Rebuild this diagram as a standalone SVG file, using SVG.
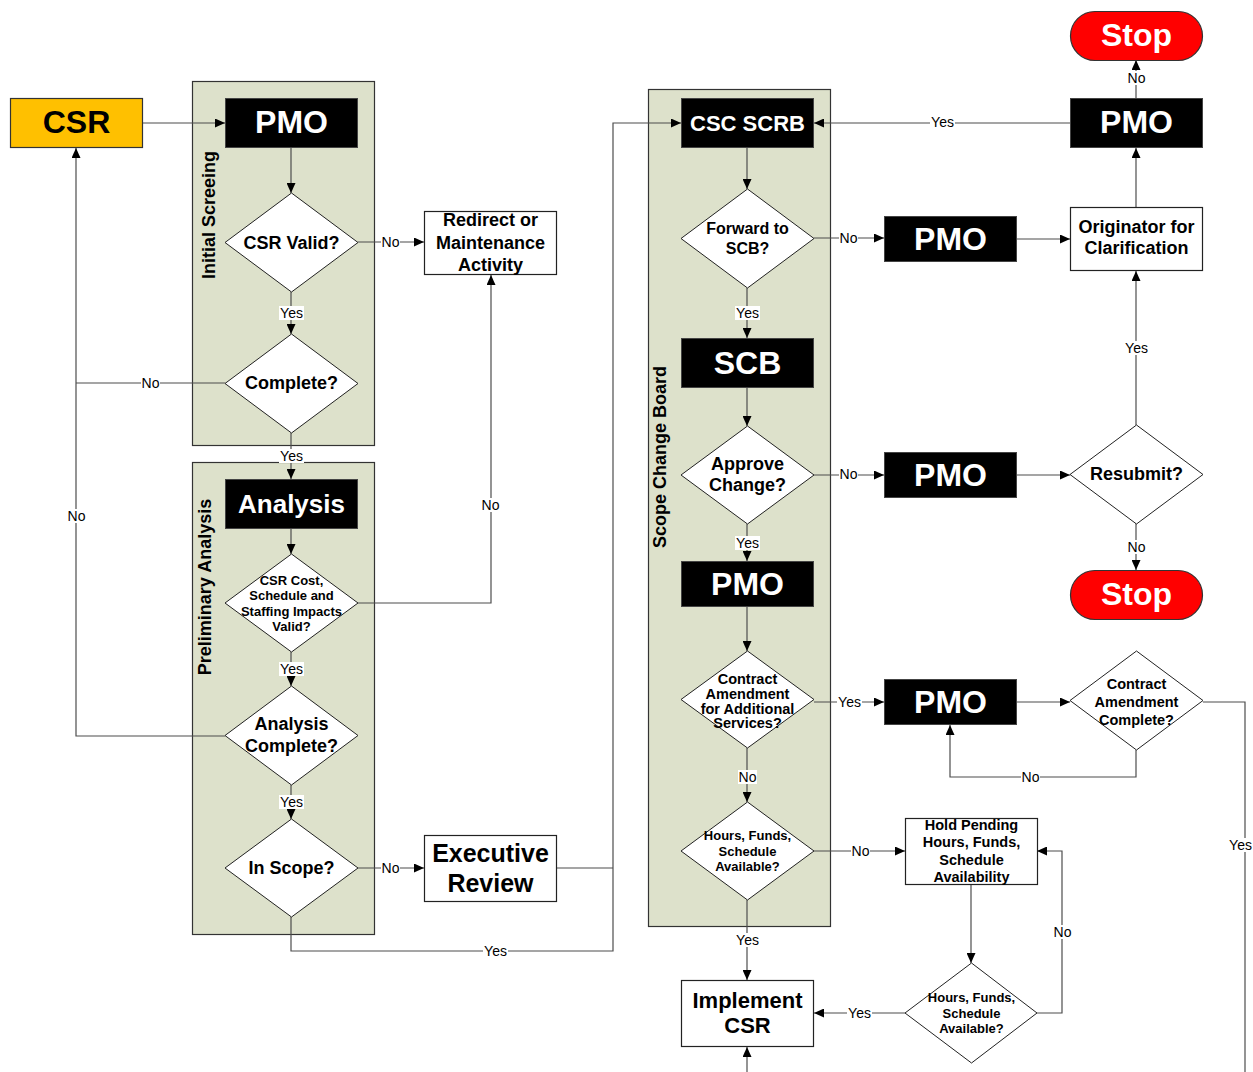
<svg xmlns="http://www.w3.org/2000/svg" width="1253" height="1072" viewBox="0 0 1253 1072">
<defs>
<marker id="arr" markerUnits="userSpaceOnUse" markerWidth="10" markerHeight="9" refX="10" refY="4.5" orient="auto">
<path d="M0,0 L10,4.5 L0,9 z" fill="#000"/>
</marker>
<style>
.lane{fill:#dde1cb;stroke:#333;stroke-width:1.2}
.lanet{font-family:"Liberation Sans",Arial,sans-serif;font-weight:bold;font-size:18px;fill:#000;text-anchor:middle}
.blk{fill:#000;stroke:#444;stroke-width:1}
.wht{fill:#fff;stroke:#222;stroke-width:1.2}
.dia{fill:#fff;stroke:#222;stroke-width:1}
.stop{fill:#ff0000;stroke:#333;stroke-width:1.2}
.t{font-family:"Liberation Sans",Arial,sans-serif;font-weight:bold;text-anchor:middle;fill:#000}
.tw{font-family:"Liberation Sans",Arial,sans-serif;font-weight:bold;text-anchor:middle;fill:#fff}
.c path{fill:none;stroke:#4d4d4d;stroke-width:1.2}
.lb rect{fill:#fff}
.lb text{font-family:"Liberation Sans",Arial,sans-serif;font-size:14px;text-anchor:middle;fill:#000}
</style>
</defs>
<rect width="1253" height="1072" fill="#fff"/>

<g id="lane-initial-screening">
<rect class="lane" x="192.5" y="81.5" width="182" height="364"/>
<text class="lanet" transform="translate(215,215) rotate(-90)">Initial Screeing</text>
</g>
<g id="lane-preliminary-analysis">
<rect class="lane" x="192.5" y="462.5" width="182" height="472"/>
<text class="lanet" transform="translate(211,587) rotate(-90)">Preliminary Analysis</text>
</g>
<g id="lane-scope-change-board">
<rect class="lane" x="648.5" y="89.5" width="182" height="837"/>
<text class="lanet" transform="translate(666,457) rotate(-90)">Scope Change Board</text>
</g>

<g id="connectors" class="c">
<path d="M143,123 H225" marker-end="url(#arr)"/>
<path d="M291,148 V193" marker-end="url(#arr)"/>
<path d="M358,242 H424" marker-end="url(#arr)"/>
<path d="M291,292 V334" marker-end="url(#arr)"/>
<path d="M225,383 H76"/>
<path d="M291,433 V479" marker-end="url(#arr)"/>
<path d="M291,529 V554" marker-end="url(#arr)"/>
<path d="M358,603 H491 V275" marker-end="url(#arr)"/>
<path d="M291,652 V686" marker-end="url(#arr)"/>
<path d="M225,736 H76 V148" marker-end="url(#arr)"/>
<path d="M291,785 V819" marker-end="url(#arr)"/>
<path d="M358,868 H424" marker-end="url(#arr)"/>
<path d="M291,917 V951 H613 V123 H681" marker-end="url(#arr)"/>
<path d="M557,868 H613"/>
<path d="M747,148 V189" marker-end="url(#arr)"/>
<path d="M814,238 H884" marker-end="url(#arr)"/>
<path d="M1017,239 H1070" marker-end="url(#arr)"/>
<path d="M1136,207 V148" marker-end="url(#arr)"/>
<path d="M1136,98 V60" marker-end="url(#arr)"/>
<path d="M1070,123 H814" marker-end="url(#arr)"/>
<path d="M747,288 V338" marker-end="url(#arr)"/>
<path d="M747,388 V426" marker-end="url(#arr)"/>
<path d="M814,475 H884" marker-end="url(#arr)"/>
<path d="M1017,475 H1070" marker-end="url(#arr)"/>
<path d="M1136,425 V271" marker-end="url(#arr)"/>
<path d="M1136,523 V570" marker-end="url(#arr)"/>
<path d="M747,524 V561" marker-end="url(#arr)"/>
<path d="M747,607 V651" marker-end="url(#arr)"/>
<path d="M814,702 H884" marker-end="url(#arr)"/>
<path d="M1017,702 H1070" marker-end="url(#arr)"/>
<path d="M1136,750 V777 H950 V725" marker-end="url(#arr)"/>
<path d="M1203,702 H1245 V1080"/>
<path d="M747,1080 V1047" marker-end="url(#arr)"/>
<path d="M747,748 V802" marker-end="url(#arr)"/>
<path d="M814,851 H905" marker-end="url(#arr)"/>
<path d="M971,885 V963" marker-end="url(#arr)"/>
<path d="M1037,1013 H1062 V851 H1037" marker-end="url(#arr)"/>
<path d="M905,1013 H814" marker-end="url(#arr)"/>
<path d="M747,900 V980" marker-end="url(#arr)"/>
</g>

<g id="connector-labels" class="lb">
<rect x="381" y="235" width="19" height="14"/><text x="390.5" y="247">No</text>
<rect x="279" y="306" width="25" height="14"/><text x="291.5" y="318">Yes</text>
<rect x="141" y="376" width="19" height="14"/><text x="150.5" y="388">No</text>
<rect x="279" y="449" width="25" height="14"/><text x="291.5" y="461">Yes</text>
<rect x="67" y="509" width="19" height="14"/><text x="76.5" y="521">No</text>
<rect x="481" y="498" width="19" height="14"/><text x="490.5" y="510">No</text>
<rect x="279" y="662" width="25" height="14"/><text x="291.5" y="674">Yes</text>
<rect x="279" y="795" width="25" height="14"/><text x="291.5" y="807">Yes</text>
<rect x="381" y="861" width="19" height="14"/><text x="390.5" y="873">No</text>
<rect x="483" y="944" width="25" height="14"/><text x="495.5" y="956">Yes</text>
<rect x="930" y="115" width="25" height="14"/><text x="942.5" y="127">Yes</text>
<rect x="1127" y="71" width="19" height="14"/><text x="1136.5" y="83">No</text>
<rect x="839" y="231" width="19" height="14"/><text x="848.5" y="243">No</text>
<rect x="735" y="306" width="25" height="14"/><text x="747.5" y="318">Yes</text>
<rect x="1124" y="341" width="25" height="14"/><text x="1136.5" y="353">Yes</text>
<rect x="839" y="467" width="19" height="14"/><text x="848.5" y="479">No</text>
<rect x="1127" y="540" width="19" height="14"/><text x="1136.5" y="552">No</text>
<rect x="735" y="536" width="25" height="14"/><text x="747.5" y="548">Yes</text>
<rect x="837" y="695" width="25" height="14"/><text x="849.5" y="707">Yes</text>
<rect x="1021" y="770" width="19" height="14"/><text x="1030.5" y="782">No</text>
<rect x="738" y="770" width="19" height="14"/><text x="747.5" y="782">No</text>
<rect x="851" y="844" width="19" height="14"/><text x="860.5" y="856">No</text>
<rect x="1053" y="925" width="19" height="14"/><text x="1062.5" y="937">No</text>
<rect x="735" y="933" width="25" height="14"/><text x="747.5" y="945">Yes</text>
<rect x="847" y="1006" width="25" height="14"/><text x="859.5" y="1018">Yes</text>
<rect x="1228" y="838" width="25" height="14"/><text x="1240.5" y="850">Yes</text>
</g>

<g id="csr">
<rect x="10.5" y="98.5" width="132" height="49" fill="#ffc000" stroke="#333" stroke-width="1.2"/>
<text class="t" x="76.5" y="133" font-size="32">CSR</text>
</g>
<g id="pmo-1">
<rect class="blk" x="225.5" y="98.5" width="132" height="49"/>
<text class="tw" x="291.5" y="133" font-size="32">PMO</text>
</g>
<g id="csr-valid">
<polygon class="dia" points="291.5,193 358,242.5 291.5,292 225,242.5"/>
<text class="t" x="291.5" y="248.5" font-size="18">CSR Valid?</text>
</g>
<g id="redirect">
<rect class="wht" x="424.5" y="211.5" width="132" height="63"/>
<text class="t" font-size="18"><tspan x="490.5" y="226">Redirect or</tspan><tspan x="490.5" y="249">Maintenance</tspan><tspan x="490.5" y="271">Activity</tspan></text>
</g>
<g id="complete">
<polygon class="dia" points="291.5,334 358,383.5 291.5,433 225,383.5"/>
<text class="t" x="291.5" y="389" font-size="18">Complete?</text>
</g>
<g id="analysis">
<rect class="blk" x="225.5" y="479.5" width="132" height="49"/>
<text class="tw" x="291.5" y="512.5" font-size="26">Analysis</text>
</g>
<g id="csr-cost">
<polygon class="dia" points="291.5,554 358,603 291.5,652 225,603"/>
<text class="t" font-size="13"><tspan x="291.5" y="584.5">CSR Cost,</tspan><tspan x="291.5" y="599.5">Schedule and</tspan><tspan x="291.5" y="615.5">Staffing Impacts</tspan><tspan x="291.5" y="630.5">Valid?</tspan></text>
</g>
<g id="analysis-complete">
<polygon class="dia" points="291.5,686 358,735.5 291.5,785 225,735.5"/>
<text class="t" font-size="18"><tspan x="291.5" y="730">Analysis</tspan><tspan x="291.5" y="752">Complete?</tspan></text>
</g>
<g id="in-scope">
<polygon class="dia" points="291.5,819 358,868 291.5,917 225,868"/>
<text class="t" x="291.5" y="874" font-size="18">In Scope?</text>
</g>
<g id="executive-review">
<rect class="wht" x="424.5" y="835.5" width="132" height="66"/>
<text class="t" font-size="25"><tspan x="490.5" y="861.5">Executive</tspan><tspan x="490.5" y="891.5">Review</tspan></text>
</g>
<g id="csc-scrb">
<rect class="blk" x="681.5" y="98.5" width="132" height="49"/>
<text class="tw" x="747.5" y="130.5" font-size="22">CSC SCRB</text>
</g>
<g id="forward-to-scb">
<polygon class="dia" points="747.5,189 814,238.5 747.5,288 681,238.5"/>
<text class="t" font-size="16"><tspan x="747.5" y="234">Forward to</tspan><tspan x="747.5" y="254">SCB?</tspan></text>
</g>
<g id="pmo-forward-no">
<rect class="blk" x="884.5" y="216.5" width="132" height="45"/>
<text class="tw" x="950.5" y="249.5" font-size="32">PMO</text>
</g>
<g id="originator">
<rect class="wht" x="1070.5" y="207.5" width="132" height="63"/>
<text class="t" font-size="18"><tspan x="1136.5" y="233">Originator for</tspan><tspan x="1136.5" y="254">Clarification</tspan></text>
</g>
<g id="pmo-top">
<rect class="blk" x="1070.5" y="98.5" width="132" height="49"/>
<text class="tw" x="1136.5" y="133" font-size="32">PMO</text>
</g>
<g id="stop-1">
<rect class="stop" x="1070.5" y="11.5" width="132" height="49" rx="24.5"/>
<text class="tw" x="1136.5" y="46" font-size="32">Stop</text>
</g>
<g id="scb">
<rect class="blk" x="681.5" y="338.5" width="132" height="49"/>
<text class="tw" x="747.5" y="373.5" font-size="32">SCB</text>
</g>
<g id="approve-change">
<polygon class="dia" points="747.5,426 814,475 747.5,524 681,475"/>
<text class="t" font-size="18"><tspan x="747.5" y="469.5">Approve</tspan><tspan x="747.5" y="490.5">Change?</tspan></text>
</g>
<g id="pmo-approve-no">
<rect class="blk" x="884.5" y="452.5" width="132" height="45"/>
<text class="tw" x="950.5" y="485.5" font-size="32">PMO</text>
</g>
<g id="resubmit">
<polygon class="dia" points="1136.5,425 1203,474.5 1136.5,524 1070,474.5"/>
<text class="t" x="1136.5" y="480" font-size="18">Resubmit?</text>
</g>
<g id="stop-2">
<rect class="stop" x="1070.5" y="570.5" width="132" height="49" rx="24.5"/>
<text class="tw" x="1136.5" y="605" font-size="32">Stop</text>
</g>
<g id="pmo-3">
<rect class="blk" x="681.5" y="561.5" width="132" height="45"/>
<text class="tw" x="747.5" y="594.5" font-size="32">PMO</text>
</g>
<g id="contract-amendment-services">
<polygon class="dia" points="747.5,651 814,699.5 747.5,748 681,699.5"/>
<text class="t" font-size="14.5"><tspan x="747.5" y="684">Contract</tspan><tspan x="747.5" y="699">Amendment</tspan><tspan x="747.5" y="714">for Additional</tspan><tspan x="747.5" y="728">Services?</tspan></text>
</g>
<g id="pmo-amendment">
<rect class="blk" x="884.5" y="679.5" width="132" height="45"/>
<text class="tw" x="950.5" y="712.5" font-size="32">PMO</text>
</g>
<g id="contract-amendment-complete">
<polygon class="dia" points="1136.5,651 1203,700.5 1136.5,750 1070,700.5"/>
<text class="t" font-size="14.5"><tspan x="1136.5" y="689">Contract</tspan><tspan x="1136.5" y="707">Amendment</tspan><tspan x="1136.5" y="725">Complete?</tspan></text>
</g>
<g id="hours-available-1">
<polygon class="dia" points="747.5,802 814,851 747.5,900 681,851"/>
<text class="t" font-size="13"><tspan x="747.5" y="840">Hours, Funds,</tspan><tspan x="747.5" y="856">Schedule</tspan><tspan x="747.5" y="871">Available?</tspan></text>
</g>
<g id="hold-pending">
<rect class="wht" x="905.5" y="818.5" width="132" height="66"/>
<text class="t" font-size="14.5"><tspan x="971.5" y="830">Hold Pending</tspan><tspan x="971.5" y="847">Hours, Funds,</tspan><tspan x="971.5" y="865">Schedule</tspan><tspan x="971.5" y="882">Availability</tspan></text>
</g>
<g id="hours-available-2">
<polygon class="dia" points="971.5,963 1037,1013 971.5,1063 905,1013"/>
<text class="t" font-size="13"><tspan x="971.5" y="1002">Hours, Funds,</tspan><tspan x="971.5" y="1018">Schedule</tspan><tspan x="971.5" y="1033">Available?</tspan></text>
</g>
<g id="implement-csr">
<rect class="wht" x="681.5" y="980.5" width="132" height="66"/>
<text class="t" font-size="22"><tspan x="747.5" y="1007.5">Implement</tspan><tspan x="747.5" y="1032.5">CSR</tspan></text>
</g>
</svg>
